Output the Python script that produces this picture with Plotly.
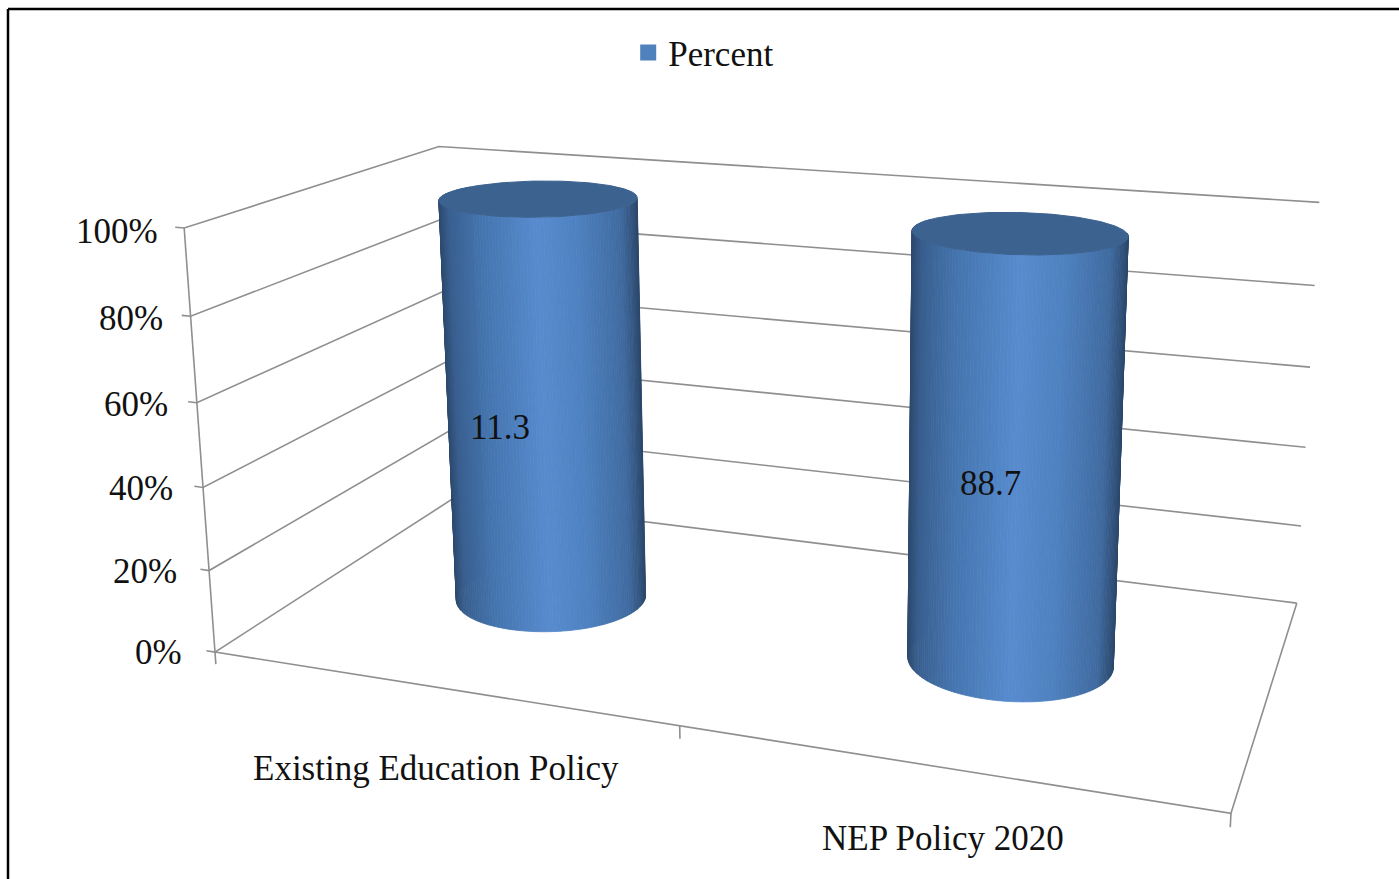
import numpy as np
import plotly.graph_objects as go

# ---- chart data -------------------------------------------------------
categories = ["Existing Education Policy", "NEP Policy 2020"]
value_labels = ["11.3", "88.7"]
stacked_percent = [100, 100]          # single series on a 100 % stacked axis
percent_ticks = [0, 20, 40, 60, 80, 100]
tick_labels = ["0%", "20%", "40%", "60%", "80%", "100%"]
series_name = "Percent"

# ---- view: the chart's 3D box as it lies in the 1399x879 page -----------
W, H = 1399, 879
BOX = np.array([(0, 0, 0), (0, 0, 1), (0, 1, 1), (0, 1, 0), (1, 1, 1), (1, 1, 0), (1, 0, 0), (.5, 0, 0)], float)
PAGE = np.array([(213, 652), (187, 228), (436, 146), (457, 498), (1320, 203), (1296, 603), (1232, 812), (678, 727)], float)
rows = []
for (a, b, c), (px, py) in zip(BOX, PAGE):
    rows.append([a, b, c, 1, 0, 0, 0, 0, -px * a, -px * b, -px * c, -px])
    rows.append([0, 0, 0, 0, a, b, c, 1, -py * a, -py * b, -py * c, -py])
CAM = np.linalg.svd(np.array(rows))[2][-1].reshape(3, 4)


def project(u, v, w):
    """box fractions -> page pixels"""
    q = CAM @ np.array([u, v, w, np.ones_like(np.asarray(u, float))], dtype=float)
    return q[0] / q[2], q[1] / q[2]


def u_of(i):
    return (i + .5) / len(categories)


DEPTH = 0.5
RU, RV = 0.101, 0.195
FONT = "Liberation Serif"
GRID = "#8f8f8f"
STOPS_T = [0, .05, .22, .5, .7, .92, 1]
STOPS_RGB = np.array([(46, 74, 110), (58, 96, 144), (70, 118, 176), (88, 140, 207), (79, 130, 193), (64, 107, 160), (44, 72, 108)], float)
CAP = "#3c6290"
NSEG = 180
CAT_SHIFT = [(-2, 81), (0, 71)]
VALUE_SHIFT = [(-45, 26), (-24, 32)]

fig = go.Figure()


def path(points, color=GRID, width=1.6):
    xs, ys = zip(*[project(*p) for p in points])
    fig.add_trace(go.Scatter(x=xs, y=ys, mode="lines", line=dict(color=color, width=width),
                             showlegend=False, hoverinfo="skip"))


# walls and floor
for t in percent_ticks:
    w = t / 100
    path([(-.010, 0, w), (0, 0, w), (0, 1, w), (1, 1, w)])
path([(0, 0, 0), (0, 0, 1)])
path([(0, 0, 0), (1, 0, 0), (1, 1, 0)])
for u in (0, .5, 1):
    path([(u, 0, 0), (u, 0, -.03)])

# cylinders
theta = np.linspace(0, 2 * np.pi, NSEG + 1)
for i, pct in enumerate(stacked_percent):
    u0, top = u_of(i), pct / 100
    cu, cv = u0 + RU * np.cos(theta), DEPTH + RV * np.sin(theta)
    bx, by = project(cu, cv, 0 * cu)
    tx, ty = project(cu, cv, 0 * cu + top)
    for k in range(NSEG):
        qx = [bx[k], bx[k + 1], tx[k + 1], tx[k], bx[k]]
        qy = [by[k], by[k + 1], ty[k + 1], ty[k], by[k]]
        if np.sin(theta[k] + np.pi / NSEG) > .35:
            continue
        t = ((bx[k] + bx[k + 1]) / 2 - bx.min()) / (bx.max() - bx.min())
        rgb = [np.interp(t, STOPS_T, STOPS_RGB[:, c]) for c in range(3)]
        col = "rgb(%d,%d,%d)" % tuple(rgb)
        fig.add_trace(go.Scatter(x=qx, y=qy, mode="lines", fill="toself", fillcolor=col,
                                 line=dict(color=col, width=0.8), showlegend=False, hoverinfo="skip"))
    fig.add_trace(go.Scatter(x=tx, y=ty, mode="lines", fill="toself", fillcolor=CAP,
                             line=dict(color=CAP, width=1), showlegend=False, hoverinfo="skip"))

# legend entry
fig.add_trace(go.Scatter(x=[None], y=[None], mode="markers", name=series_name,
                         marker=dict(symbol="square", size=18, color="#4f81bd"), hoverinfo="skip"))


def text(x, y, s, **kw):
    return dict(x=x, y=y, xref="x", yref="y", text=s, showarrow=False,
                font=dict(family=FONT, size=35, color="#111111"), **kw)


anns = []
for t, lab in zip(percent_ticks, tick_labels):
    px, py = project(0, 0, t / 100)
    anns.append(text(px - 31 + .07 * t, py + 3 - .03 * (100 - t), lab, xanchor="right", yanchor="middle"))
for i, c in enumerate(categories):
    px, py = project(u_of(i), 0, 0)
    anns.append(text(px + CAT_SHIFT[i][0], py + CAT_SHIFT[i][1], c, xanchor="center", yanchor="middle"))
for i, lab in enumerate(value_labels):
    px, py = project(u_of(i), DEPTH, .5)
    anns.append(text(px + VALUE_SHIFT[i][0], py + VALUE_SHIFT[i][1], lab, xanchor="center", yanchor="middle"))

frame_line = dict(color="black", width=2.5)
fig.update_layout(
    width=W, height=H, margin=dict(l=0, r=0, t=0, b=0), paper_bgcolor="white", plot_bgcolor="white",
    xaxis=dict(visible=False, range=[0, W], fixedrange=True),
    yaxis=dict(visible=False, range=[H, 0], fixedrange=True),
    legend=dict(x=.503, y=.94, xanchor="center", yanchor="middle", orientation="h", bgcolor="rgba(0,0,0,0)",
                font=dict(family=FONT, size=35, color="#111111")),
    showlegend=True,
    annotations=anns,
    shapes=[dict(type="line", xref="x", yref="y", x0=8, x1=8, y0=9, y1=H, line=frame_line),
            dict(type="line", xref="x", yref="y", x0=8, x1=W, y0=9, y1=9, line=frame_line)],
)
fig.write_html("out.html", config={"displayModeBar": False},
               post_script="document.body.style.margin='0';document.body.style.overflow='hidden';")
